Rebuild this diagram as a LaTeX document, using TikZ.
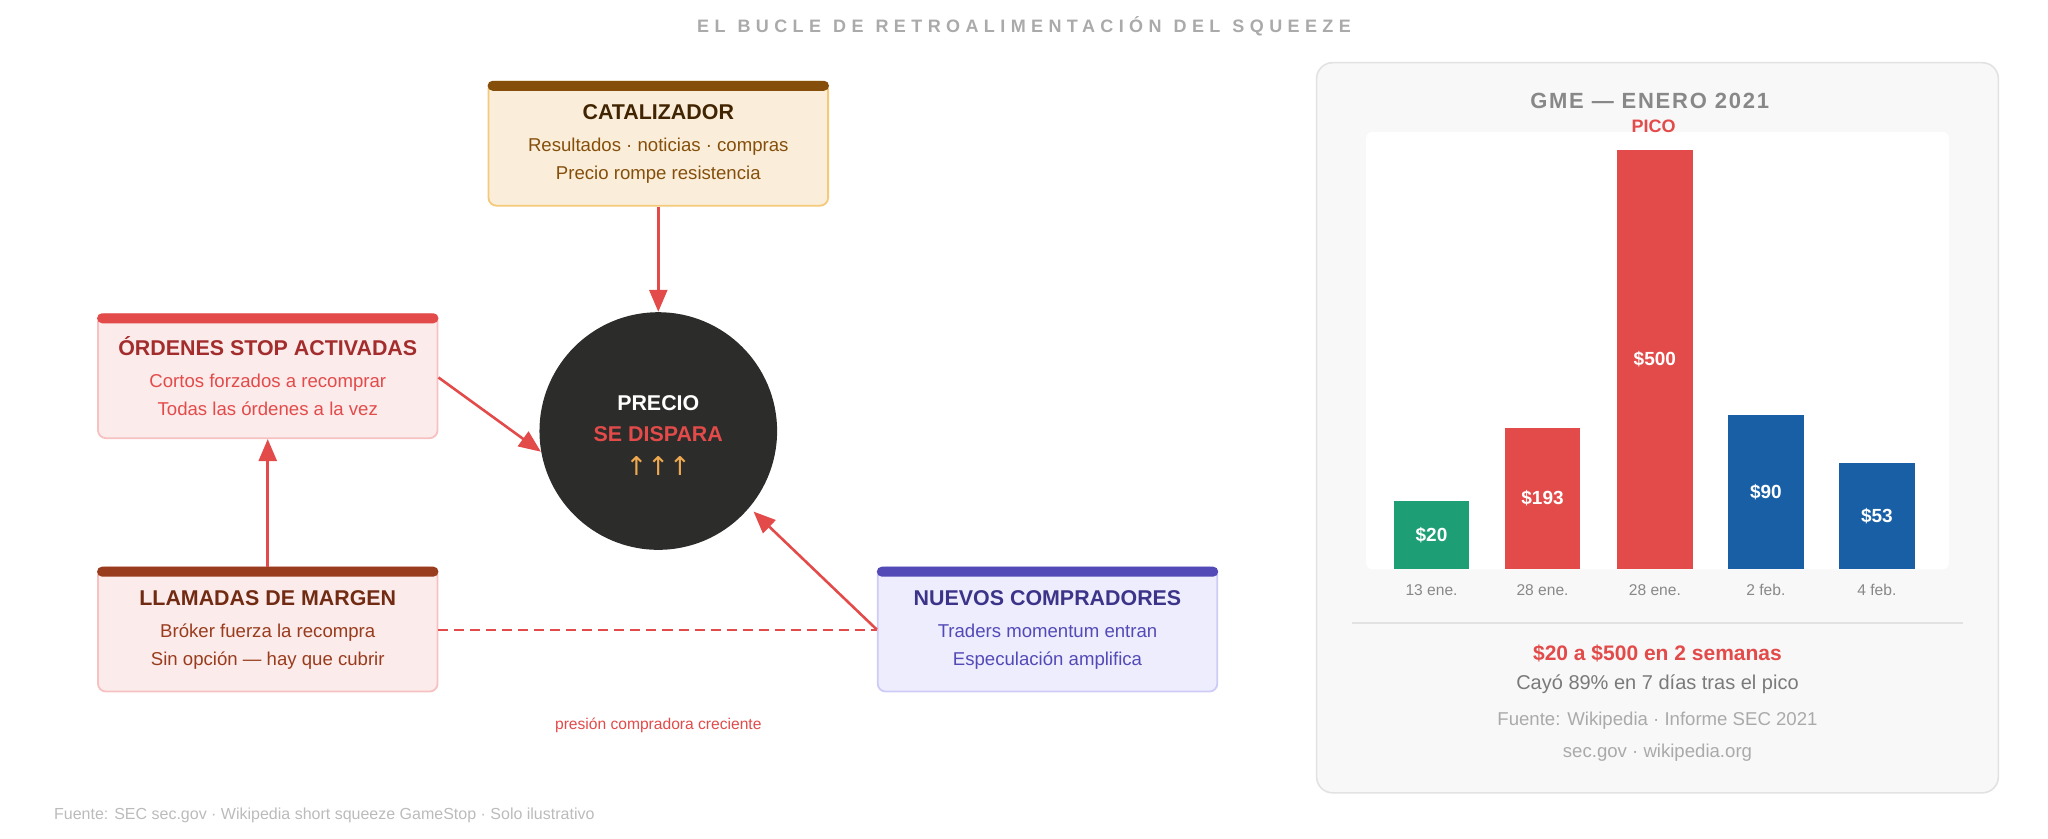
\documentclass[tikz,border=0pt]{standalone}
\usepackage{fontspec}
\setmainfont{Liberation Sans}
\newfontfamily\symfont{DejaVu Sans}
\usepackage{tikz}
\usetikzlibrary{arrows.meta}

\definecolor{catbar}{HTML}{854F0B}
\definecolor{catfill}{HTML}{FAEEDA}
\definecolor{catline}{HTML}{F5C97A}
\definecolor{cattitle}{HTML}{412402}
\definecolor{cattext}{HTML}{854F0B}
\definecolor{redbar}{HTML}{E24B4A}
\definecolor{redfill}{HTML}{FCEBEB}
\definecolor{redline}{HTML}{F7C1C1}
\definecolor{redtitle}{HTML}{A32D2D}
\definecolor{brownbar}{HTML}{993C1D}
\definecolor{browntitle}{HTML}{712B13}
\definecolor{purplebar}{HTML}{534AB7}
\definecolor{purplefill}{HTML}{EEEDFE}
\definecolor{purpleline}{HTML}{CECBF6}
\definecolor{purpletitle}{HTML}{3C3489}
\definecolor{darkcirc}{HTML}{2C2C2A}
\definecolor{goldarrow}{HTML}{EFA950}
\definecolor{greenbar}{HTML}{1D9E75}
\definecolor{bluebar}{HTML}{185FA5}
\definecolor{midgray}{HTML}{888888}
\definecolor{lightgray}{HTML}{AAAAAA}
\definecolor{panelfill}{HTML}{F8F8F8}
\definecolor{panelline}{HTML}{E2E2E2}

\begin{document}
\begin{tikzpicture}[x=0.653pt,y=-0.653pt]
  \tikzstyle{every node}=[font=\fontsize{9.3}{11}\selectfont]
  \tikzstyle{box}=[draw,rounded corners=4pt,line width=0.9pt,minimum width=169.8pt,minimum height=62pt,align=center]
  \tikzstyle{flow}=[draw=redbar,line width=1.3pt,-{Triangle[length=11pt,width=9pt]}]
  \tikzstyle{bar}=[inner sep=0pt,minimum width=37.9pt,anchor=south]
  \tikzstyle{date}=[text=midgray,font=\fontsize{7.8}{9}\selectfont]
  \useasboundingbox (0,0) rectangle (1568,642);
  \node[text=lightgray,font=\fontsize{9}{10}\selectfont\bfseries] (title) at (784,20)
    {\addfontfeatures{LetterSpace=30}EL\hspace{6pt}BUCLE\hspace{6pt}DE\hspace{6pt}RETROALIMENTACIÓN\hspace{6pt}DEL\hspace{6pt}SQUEEZE};
  % loop
  \node[box,draw=catline,fill=catfill] (cat) at (504,110)
    {\textcolor{cattitle}{\fontsize{10.7}{13}\selectfont\bfseries CATALIZADOR}\\[5pt]
     \textcolor{cattext}{Resultados · noticias · compras}\\[3pt]
     \textcolor{cattext}{Precio rompe resistencia}};
  \node[box,draw=redline,fill=redfill] (stop) at (205,288)
    {\textcolor{redtitle}{\fontsize{10.7}{13}\selectfont\bfseries ÓRDENES STOP ACTIVADAS}\\[5pt]
     \textcolor{redbar}{Cortos forzados a recomprar}\\[3pt]
     \textcolor{redbar}{Todas las órdenes a la vez}};
  \node[box,draw=redline,fill=redfill] (margen) at (205,482)
    {\textcolor{browntitle}{\fontsize{10.7}{13}\selectfont\bfseries LLAMADAS DE MARGEN}\\[5pt]
     \textcolor{brownbar}{Bróker fuerza la recompra}\\[3pt]
     \textcolor{brownbar}{Sin opción — hay que cubrir}};
  \node[box,draw=purpleline,fill=purplefill] (nuevos) at (802,482)
    {\textcolor{purpletitle}{\fontsize{10.7}{13}\selectfont\bfseries NUEVOS COMPRADORES}\\[5pt]
     \textcolor{purplebar}{Traders momentum entran}\\[3pt]
     \textcolor{purplebar}{Especulación amplifica}};
  \fill[catbar,rounded corners=2.5pt] (cat.north west) rectangle ([yshift=-5pt]cat.north east);
  \fill[redbar,rounded corners=2.5pt] (stop.north west) rectangle ([yshift=-5pt]stop.north east);
  \fill[brownbar,rounded corners=2.5pt] (margen.north west) rectangle ([yshift=-5pt]margen.north east);
  \fill[purplebar,rounded corners=2.5pt] (nuevos.north west) rectangle ([yshift=-5pt]nuevos.north east);
  \node[circle,fill=darkcirc,minimum size=118.8pt] (precio) at (504,330) {};
  \node[text=white,font=\fontsize{10.7}{13}\selectfont\bfseries] (p1) at (504,309) {PRECIO};
  \node[text=redbar,font=\fontsize{10.7}{13}\selectfont\bfseries] (p2) at (504,332) {SE DISPARA};
  \node[text=goldarrow,font=\symfont\fontsize{13}{14}\selectfont] (p3) at (504,357) {↑↑↑};
  \path[flow] (cat) -- (precio);
  \path[flow] (stop.east) ++(0,1) -- (precio.190);
  \path[flow] (margen.north) -- (stop.south);
  \path[flow] (nuevos.west) -- ([shift={(3,3)}]precio.-40);
  \draw[redbar,line width=1pt,dashed,dash pattern=on 5pt off 3pt] (margen.east) -- (nuevos.west);
  \node[text=redbar,font=\fontsize{7.8}{9}\selectfont] (presion) at (504,555) {presión compradora creciente};
  \node[text=lightgray!80,anchor=west,font=\fontsize{8}{9}\selectfont] (fuente) at (36,624)
    {Fuente: SEC sec.gov · Wikipedia short squeeze GameStop · Solo ilustrativo};
  % panel
  \filldraw[fill=panelfill,draw=panelline,line width=0.8pt,rounded corners=8pt] (1008,48) rectangle (1530,607);
  \fill[white,rounded corners=3pt] (1046,101) rectangle (1492,436);
  \node[text=midgray,font=\fontsize{11}{13}\selectfont\bfseries] (gme) at (1263,77) {\addfontfeatures{LetterSpace=8}GME — ENERO 2021};
  \node[text=redbar,font=\fontsize{9}{10}\selectfont\bfseries] (pico) at (1266,97) {PICO};
  \foreach \cx/\top/\col/\val/\day [count=\i] in
    {1096/384/greenbar/\$20/13 ene., 1181/328/redbar/\$193/28 ene., 1267/115/redbar/\$500/28 ene.,
     1352/318/bluebar/\$90/2 feb., 1437/355/bluebar/\$53/4 feb.}{
    \pgfmathsetmacro{\h}{(436-\top)*0.653}
    \node[bar,fill=\col,minimum height=\h pt] (bar\i) at (\cx,436) {};
    \node[text=white,font=\fontsize{9.5}{11}\selectfont\bfseries] at (bar\i) {\val};
    \node[date] (day\i) at (\cx,452) {\day};
  }
  \draw[panelline,line width=0.6pt] (1035,477) -- (1503,477);
  \node[text=redbar,font=\fontsize{10.5}{12}\selectfont\bfseries] (sum) at (1269,500) {\$20 a \$500 en 2 semanas};
  \node[text=midgray!90!black,font=\fontsize{10}{11}\selectfont] (cayo) at (1269,524) {Cayó 89\% en 7 días tras el pico};
  \node[text=lightgray] (src) at (1269,552) {Fuente: Wikipedia · Informe SEC 2021};
  \node[text=lightgray] (web) at (1269,576) {sec.gov · wikipedia.org};
\end{tikzpicture}
\end{document}
